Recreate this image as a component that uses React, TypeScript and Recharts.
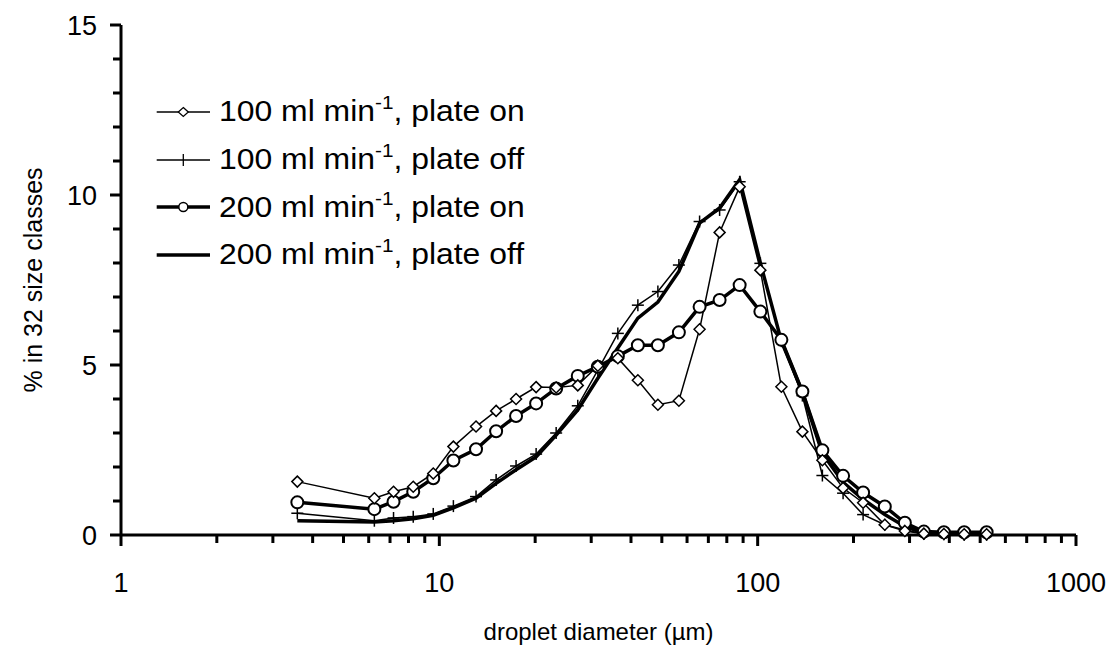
import React from 'react';
import { LineChart, Line, XAxis, YAxis } from 'recharts';

// droplet diameter class midpoints (µm)
const diameters = [3.58, 6.25, 7.18, 8.28, 9.57, 11.07, 13.04, 15.08, 17.42, 20.14, 23.28, 27.22, 31.47, 36.37, 42.04, 48.59, 56.56, 65.7, 75.94, 87.78, 101.97, 118.72, 138.2, 159.7, 185.5, 214.4, 250.8, 290.0, 332.7, 384.6, 445.4, 523.9];

const flow100PlateOn = [1.57, 1.08, 1.27, 1.42, 1.81, 2.6, 3.19, 3.65, 4.0, 4.35, 4.34, 4.4, 4.98, 5.2, 4.55, 3.83, 3.95, 6.05, 8.9, 10.24, 7.79, 4.36, 3.04, 2.2, 1.38, 0.95, 0.3, 0.12, 0.04, 0.03, 0.02, 0.02];
const flow100PlateOff = [0.64, 0.42, 0.5, 0.54, 0.62, 0.85, 1.13, 1.62, 2.03, 2.38, 3.0, 3.8, 4.85, 5.93, 6.76, 7.16, 7.94, 9.22, 9.56, 10.39, 7.99, 5.7, 4.1, 1.75, 1.23, 0.6, 0.3, 0.15, 0.03, 0.02, 0.01, 0.01];
const flow200PlateOn = [0.96, 0.76, 0.98, 1.27, 1.67, 2.19, 2.52, 3.05, 3.5, 3.87, 4.31, 4.68, 4.95, 5.26, 5.58, 5.58, 5.96, 6.71, 6.91, 7.35, 6.57, 5.74, 4.22, 2.49, 1.74, 1.25, 0.84, 0.36, 0.1, 0.08, 0.08, 0.08];
const flow200PlateOff = [0.42, 0.38, 0.42, 0.48, 0.58, 0.8, 1.08, 1.52, 1.92, 2.3, 2.94, 3.68, 4.61, 5.5, 6.38, 6.85, 7.75, 9.17, 9.62, 10.45, 8.0, 5.7, 4.2, 2.4, 1.55, 1.05, 0.6, 0.25, 0.05, 0.03, 0.02, 0.02];

const seriesNames = ['100 ml min', '100 ml min', '200 ml min', '200 ml min'];
const seriesSuffix = [', plate on', ', plate off', ', plate on', ', plate off'];
const superscript = '-1';

const xMajorTicks = [1, 10, 100, 1000];
const xTicks = [1, 2, 3, 4, 5, 6, 7, 8, 9, 10, 20, 30, 40, 50, 60, 70, 80, 90, 100, 200, 300, 400, 500, 600, 700, 800, 900, 1000];
const yMajorTicks = [0, 5, 10, 15];
const yTicks = [0, 1, 2, 3, 4, 5, 6, 7, 8, 9, 10, 11, 12, 13, 14, 15];

const xTitle = 'droplet diameter (µm)';
const yTitle = '% in 32 size classes';

const data = diameters.map((d, i) => ({
  d,
  a: flow100PlateOn[i],
  b: flow100PlateOff[i],
  c: flow200PlateOn[i],
  e: flow200PlateOff[i],
}));

const FONT = '"Liberation Sans", Arial, Helvetica, sans-serif';

const XTick = (props: any) => {
  const { x, y, payload } = props;
  const v = payload.value;
  const major = xMajorTicks.includes(v);
  return (
    <g>
      <line x1={x} x2={x} y1={y} y2={y + (major ? 11 : 8)} stroke="#000" strokeWidth={3} />
      {major && (
        <text x={x} y={y + 57} textAnchor="middle" fontSize={27} fontFamily={FONT} fill="#000">
          {v}
        </text>
      )}
    </g>
  );
};

const YTick = (props: any) => {
  const { x, y, payload } = props;
  const v = payload.value;
  const major = yMajorTicks.includes(v);
  return (
    <g>
      <line x1={x - (major ? 11 : 8)} x2={x} y1={y} y2={y} stroke="#000" strokeWidth={3} />
      {major && (
        <text x={x - 24} y={y + 10} textAnchor="end" fontSize={27} fontFamily={FONT} fill="#000">
          {v}
        </text>
      )}
    </g>
  );
};

const diamondDot = (p: any) => {
  const { cx, cy, index } = p;
  const r = 5.5;
  if (cx == null || cy == null) return <g key={`dd${index}`} />;
  return (
    <polygon
      key={`dd${index}`}
      points={`${cx},${cy - r} ${cx + r},${cy} ${cx},${cy + r} ${cx - r},${cy}`}
      fill="#fff"
      stroke="#000"
      strokeWidth={1.5}
    />
  );
};

const plusDot = (p: any) => {
  const { cx, cy, index } = p;
  if (cx == null || cy == null) return <g key={`pd${index}`} />;
  const r = 6;
  return (
    <g key={`pd${index}`}>
      <line x1={cx - r} x2={cx + r} y1={cy} y2={cy} stroke="#000" strokeWidth={1.5} />
      <line x1={cx} x2={cx} y1={cy - r} y2={cy + r} stroke="#000" strokeWidth={1.5} />
    </g>
  );
};

const circleDot = (p: any) => {
  const { cx, cy, index } = p;
  if (cx == null || cy == null) return <g key={`cd${index}`} />;
  return <circle key={`cd${index}`} cx={cx} cy={cy} r={6} fill="#fff" stroke="#000" strokeWidth={2} />;
};

const legendMarkers = ['diamond', 'plus', 'circle', 'none'];
const legendWidths = [1.5, 1.5, 3.5, 3.5];

const LegendBox = () => (
  <div style={{ position: 'absolute', left: 150, top: 88, fontFamily: FONT, fontSize: 29, color: '#000' }}>
    {seriesNames.map((name, i) => (
      <div key={i} style={{ display: 'flex', alignItems: 'center', height: 47.7 }}>
        <svg width={69} height={20} style={{ display: 'block', flex: 'none' }}>
          <line x1={6.7} x2={60} y1={10} y2={10} stroke="#000" strokeWidth={legendWidths[i]} />
          {legendMarkers[i] === 'diamond' && (
            <polygon points="33.3,5.5 38.3,10 33.3,14.5 28.3,10" fill="#fff" stroke="#000" strokeWidth={1.3} />
          )}
          {legendMarkers[i] === 'plus' && (
            <line x1={33.3} x2={33.3} y1={4} y2={16} stroke="#000" strokeWidth={1.3} />
          )}
          {legendMarkers[i] === 'circle' && <circle cx={33.3} cy={10} r={4.5} fill="#fff" stroke="#000" strokeWidth={1.5} />}
        </svg>
        <span
          style={{
            whiteSpace: 'nowrap',
            lineHeight: 1,
            display: 'inline-block',
            transform: 'scaleX(1.1)',
            transformOrigin: 'left center',
          }}
        >
          {name}
          <sup style={{ fontSize: '0.65em', lineHeight: 0, verticalAlign: '0.65em' }}>{superscript}</sup>
          {seriesSuffix[i]}
        </span>
      </div>
    ))}
  </div>
);

export default function App() {
  return (
    <div style={{ position: 'absolute', left: 0, top: 0, width: 1112, height: 650, background: '#fff' }}>
      <LineChart width={1112} height={650} data={data} margin={{ top: 25, right: 36, left: 0, bottom: 0 }}>
        <XAxis
          dataKey="d"
          type="number"
          scale="log"
          domain={[1, 1000]}
          allowDataOverflow
          ticks={xTicks}
          interval={0}
          height={115}
          tickSize={0}
          tickMargin={0}
          tickLine={false}
          tick={<XTick />}
          axisLine={{ stroke: '#000', strokeWidth: 3 }}
          label={{
            content: (p: any) => {
              const vb = p.viewBox;
              return (
                <text x={vb.x + vb.width / 2} y={640} textAnchor="middle" fontSize={24} fontFamily={FONT} fill="#000">
                  {xTitle}
                </text>
              );
            },
          }}
        />
        <YAxis
          type="number"
          domain={[0, 15]}
          ticks={yTicks}
          interval={0}
          width={121}
          tickSize={0}
          tickMargin={0}
          tickLine={false}
          tick={<YTick />}
          axisLine={{ stroke: '#000', strokeWidth: 3 }}
          label={{
            content: (p: any) => {
              const vb = p.viewBox;
              const cy = vb.y + vb.height / 2;
              return (
                <text
                  x={42}
                  y={cy}
                  transform={`rotate(-90, 42, ${cy})`}
                  textAnchor="middle"
                  fontSize={25}
                  fontFamily={FONT}
                  fill="#000"
                >
                  {yTitle}
                </text>
              );
            },
          }}
        />
        <Line
          dataKey="e"
          name="200 ml min-1, plate off"
          stroke="#000"
          strokeWidth={3.5}
          dot={false}
          activeDot={false}
          isAnimationActive={false}
          type="linear"
        />
        <Line
          dataKey="b"
          name="100 ml min-1, plate off"
          stroke="#000"
          strokeWidth={1.5}
          dot={plusDot}
          activeDot={false}
          isAnimationActive={false}
          type="linear"
        />
        <Line
          dataKey="c"
          name="200 ml min-1, plate on"
          stroke="#000"
          strokeWidth={3.5}
          dot={circleDot}
          activeDot={false}
          isAnimationActive={false}
          type="linear"
        />
        <Line
          dataKey="a"
          name="100 ml min-1, plate on"
          stroke="#000"
          strokeWidth={1.5}
          dot={diamondDot}
          activeDot={false}
          isAnimationActive={false}
          type="linear"
        />
      </LineChart>
      <LegendBox />
    </div>
  );
}
